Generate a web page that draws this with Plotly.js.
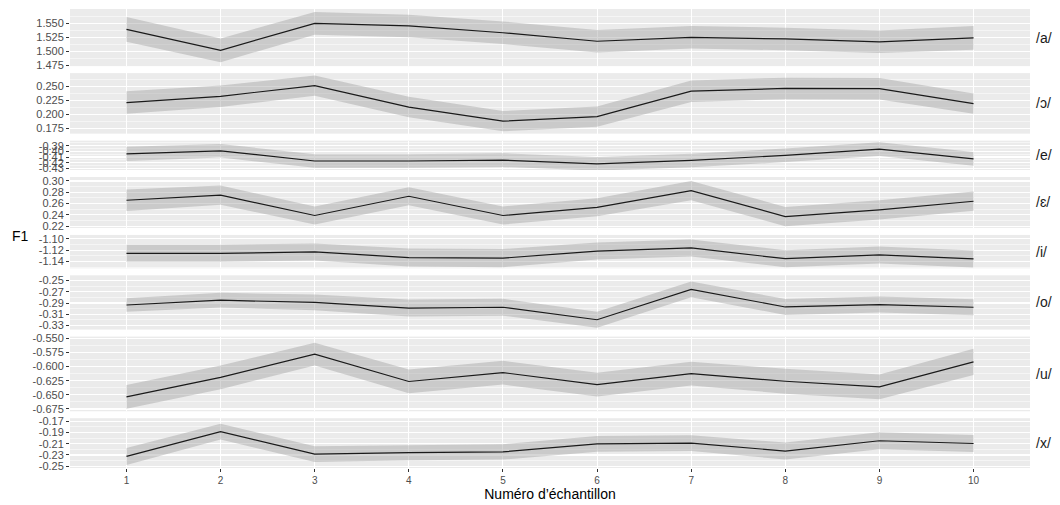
<!DOCTYPE html>
<html>
<head>
<meta charset="utf-8">
<script src="https://cdn.plot.ly/plotly-3.0.1.min.js"></script>
<style>html,body{margin:0;padding:0;background:#fff;}#chart{width:1060px;height:505px;}</style>
</head>
<body>
<div id="chart"></div>
<script>
// ---- data ----
const samples = [1, 2, 3, 4, 5, 6, 7, 8, 9, 10];
const vowels = ['/a/', '/ɔ/', '/e/', '/ɛ/', '/i/', '/o/', '/u/', '/x/'];
const xTitle = 'Numéro d’échantillon';
const yTitle = 'F1';

const meanA = [1.539, 1.502, 1.5495, 1.545, 1.533, 1.518, 1.525, 1.522, 1.517, 1.524];
const meanO_open = [0.221, 0.232, 0.251, 0.213, 0.188, 0.196, 0.241, 0.246, 0.2455, 0.219];
const meanE = [-0.4045, -0.399, -0.417, -0.417, -0.4155, -0.422, -0.416, -0.407, -0.396, -0.4133];
const meanEps = [0.266, 0.275, 0.239, 0.273, 0.239, 0.2535, 0.283, 0.237, 0.249, 0.2642];
const meanI = [-1.1255, -1.1255, -1.123, -1.133, -1.134, -1.1215, -1.116, -1.135, -1.1284, -1.1355];
const meanO = [-0.2935, -0.285, -0.289, -0.299, -0.2975, -0.3196, -0.266, -0.297, -0.2927, -0.2975];
const meanU = [-0.6536, -0.619, -0.578, -0.6264, -0.6107, -0.632, -0.6125, -0.626, -0.636, -0.5917];
const meanX = [-0.2325, -0.1887, -0.2285, -0.2257, -0.2245, -0.2104, -0.209, -0.223, -0.2048, -0.2097];

const seA = [0.022, 0.021, 0.020, 0.020, 0.020, 0.020, 0.020, 0.020, 0.020, 0.021];
const seO_open = [0.020, 0.019, 0.018, 0.018, 0.018, 0.018, 0.019, 0.019, 0.019, 0.018];
const seE = [0.0125, 0.012, 0.012, 0.012, 0.012, 0.012, 0.012, 0.012, 0.012, 0.012];
const seEps = [0.019, 0.017, 0.016, 0.016, 0.016, 0.016, 0.017, 0.017, 0.017, 0.017];
const seI = [0.015, 0.015, 0.015, 0.016, 0.016, 0.015, 0.015, 0.015, 0.015, 0.015];
const seO = [0.012, 0.013, 0.014, 0.015, 0.015, 0.014, 0.014, 0.014, 0.014, 0.014];
const seU = [0.021, 0.021, 0.020, 0.021, 0.021, 0.021, 0.021, 0.022, 0.022, 0.023];
const seX = [0.015, 0.014, 0.014, 0.0136, 0.0136, 0.014, 0.014, 0.015, 0.015, 0.015];

const means = [meanA, meanO_open, meanE, meanEps, meanI, meanO, meanU, meanX];
const ses = [seA, seO_open, seE, seEps, seI, seO, seU, seX];

// ---- layout settings ----
const ranges = [[1.474, 1.575], [0.166, 0.273], [-0.433, -0.381], [0.217, 0.307],
                [-1.152, -1.093], [-0.337, -0.241], [-0.679, -0.547], [-0.253, -0.165]];
// [first tick, step, decimals, count]
const tickSpec = [[1.475, 0.025, 3, 4], [0.175, 0.025, 3, 4], [-0.43, 0.01, 2, 5], [0.22, 0.02, 2, 5],
                  [-1.14, 0.02, 2, 3], [-0.33, 0.02, 2, 5], [-0.675, 0.025, 3, 6], [-0.25, 0.02, 2, 5]];

const W = 1060, H = 505;
const M = {l: 70, r: 30, t: 9, b: 37};
const plotH = H - M.t - M.b;
const gapPx = 7;
const nPanels = vowels.length;
const spans = ranges.map(r => r[1] - r[0]);
const totalSpan = spans.reduce((a, b) => a + b, 0);
const availFrac = 1 - (nPanels - 1) * gapPx / plotH;

const traces = [];
const layout = {
  width: W, height: H,
  margin: M,
  paper_bgcolor: '#ffffff',
  plot_bgcolor: '#EBEBEB',
  showlegend: false,
  font: {family: 'Liberation Sans, Arial, sans-serif', color: '#4D4D4D', size: 11},
  annotations: []
};

layout.xaxis = {
  range: [0.4, 10.6],
  tickmode: 'array',
  tickvals: samples,
  ticktext: samples.map(String),
  showgrid: true, gridcolor: '#ffffff', gridwidth: 1.1,
  zeroline: false, showline: false,
  ticks: 'outside', ticklen: 3, tickcolor: '#333333', tickwidth: 1,
  tickfont: {size: 10, color: '#4D4D4D'},
  anchor: 'y' + nPanels,
  title: {text: xTitle, font: {size: 14, color: '#000000'}, standoff: 3}
};

let curTop = 1;
for (let i = 0; i < nPanels; i++) {
  const h = spans[i] / totalSpan * availFrac;
  const dom = [Math.max(0, curTop - h), Math.min(1, curTop)];
  curTop = curTop - h - gapPx / plotH;
  const yName = i === 0 ? 'yaxis' : 'yaxis' + (i + 1);
  const yRef = i === 0 ? 'y' : 'y' + (i + 1);
  const [t0, dt, dec, cnt] = tickSpec[i];
  const tv = [];
  for (let k = 0; k < cnt; k++) tv.push(+(t0 + k * dt).toFixed(6));
  layout[yName] = {
    domain: dom,
    range: ranges[i],
    anchor: 'x',
    tickmode: 'array',
    tickvals: tv,
    ticktext: tv.map(v => v.toFixed(dec)),
    showgrid: true, gridcolor: '#ffffff', gridwidth: 1.1,
    minor: {tickmode: 'linear', tick0: t0 + dt / 2, dtick: dt, showgrid: true, gridcolor: '#ffffff', gridwidth: 0.5, ticks: ''},
    zeroline: false, showline: false,
    ticks: 'outside', ticklen: 3, tickcolor: '#333333', tickwidth: 1,
    tickfont: {size: 11, color: '#4D4D4D'}
  };

  const mean = means[i], se = ses[i];
  const upper = mean.map((m, k) => m + se[k]);
  const lower = mean.map((m, k) => m - se[k]);
  traces.push({
    type: 'scatter', mode: 'lines',
    x: samples.concat(samples.slice().reverse()),
    y: upper.concat(lower.slice().reverse()),
    fill: 'toself', fillcolor: 'rgba(153,153,153,0.4)',
    line: {width: 0}, hoverinfo: 'skip',
    xaxis: 'x', yaxis: yRef
  });
  traces.push({
    type: 'scatter', mode: 'lines',
    x: samples, y: mean,
    line: {color: '#1a1a1a', width: 1.2},
    xaxis: 'x', yaxis: yRef, name: vowels[i]
  });

  layout.annotations.push({
    text: vowels[i], xref: 'paper', yref: 'paper',
    x: 1, y: (dom[0] + dom[1]) / 2, xanchor: 'left', yanchor: 'middle',
    xshift: 4, showarrow: false,
    font: {size: 14, color: '#1a1a1a'}
  });
}

layout.annotations.push({
  text: yTitle, xref: 'paper', yref: 'paper',
  x: 0, y: 0.505, xanchor: 'center', yanchor: 'middle',
  xshift: -50, showarrow: false,
  font: {size: 14, color: '#000000'}
});

Plotly.newPlot('chart', traces, layout, {staticPlot: true, displayModeBar: false});
</script>
</body>
</html>
